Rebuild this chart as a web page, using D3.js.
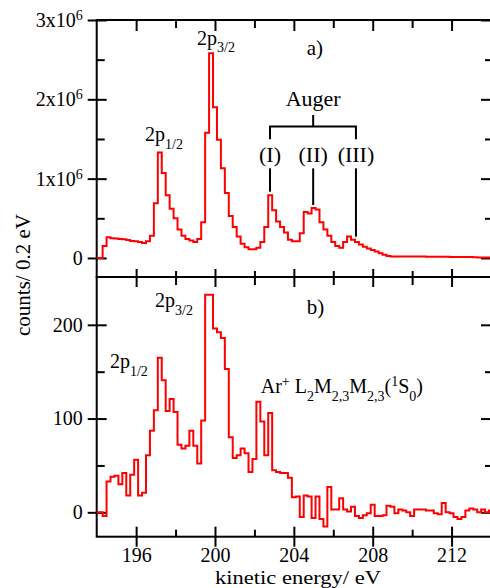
<!DOCTYPE html>
<html>
<head>
<meta charset="utf-8">
<script src="https://cdn.jsdelivr.net/npm/d3@7"></script>
<style>
    body { margin: 0; background: #fff; }
    text { font-family: "Liberation Serif", "Times New Roman", serif; white-space: pre; }
</style>
</head>
<body>
<div id="chart"></div>
<script>
// histogram bins (eV)
const binStart = 194.0;
const binWidth = 0.2;

// a) counts / 0.2 eV in units of 1e6
const topCounts = [
    0, 0, 0.15, 0.26, 0.25, 0.245, 0.24, 0.235, 0.225, 0.215,
    0.21, 0.20, 0.19, 0.21, 0.28, 0.69, 1.33, 1.07, 0.79, 0.62,
    0.50, 0.36, 0.28, 0.24, 0.22, 0.20, 0.24, 0.45, 1.58, 2.58,
    1.90, 1.49, 1.13, 0.82, 0.53, 0.39, 0.27, 0.18, 0.135, 0.11,
    0.11, 0.13, 0.20, 0.39, 0.79, 0.60, 0.46, 0.39, 0.32, 0.23,
    0.21, 0.21, 0.31, 0.58, 0.56, 0.63, 0.61, 0.45, 0.36, 0.28,
    0.20, 0.15, 0.13, 0.20, 0.27, 0.23, 0.20, 0.17, 0.14, 0.12,
    0.10, 0.08, 0.06, 0.04, 0.025, 0.02, 0.02, 0.02, 0.02, 0.018,
    0.018, 0.018, 0.017, 0.017, 0.016, 0.016, 0.015, 0.015, 0.014, 0.014,
    0.013, 0.013, 0.012, 0.012, 0.012, 0.011, 0.008, 0.006, 0.005, 0.005,
    0.005
];

// b) coincidence counts
const botCounts = [
    0, 0, -4, 33, 38, 39, 30, 42, 18, 40,
    56, 18, 21, 61, 87, 109, 165, 141, 108, 121,
    107, 72, 68, 71, 87, 71, 52, 98, 232, 232,
    196, 192, 186, 153, 80, 58, 61, 68, 63, 43,
    57, 118, 97, 61, 106, 45, 43, 42, 42, 37,
    16, 17, -5, 18, 17, -6, 17, -7, -15, 27,
    3, 3, 15, 3, 1, 6, -4, -6, -3, -1,
    8, -4, -4, -3, 7, 6, -1, 3, 2, 0,
    -4, 3, 3, 3, 2, 2, -1, -2, 10, 0,
    -1, -5, -7, -5, 2, 4, 3, 0, 3, 0,
    2
];

// ticks
const xMajor = [196, 200, 204, 208, 212];
const xMinor = [198, 202, 206, 210];
const topMajor = [0, 1, 2, 3];
const topMinor = [0.5, 1.5, 2.5];
const botMajor = [0, 100, 200];
const botMinor = [50, 150];

// Auger markers in panel a)
const augerLabels = ['(I)', '(II)', '(III)'];
const augerEnergy = [202.79, 204.98, 207.15];
const augerPeak = [0.836, 0.668, 0.269];

const svg = d3.select('#chart')
    .append('svg')
    .attr('width', 490)
    .attr('height', 588);

var x = d3.scaleLinear()
    .domain([194, 214])
    .range([96.7, 491]);

var yTop = d3.scaleLinear()
    .domain([-0.24, 3])
    .range([277, 20]);

var yBot = d3.scaleLinear()
    .domain([-26, 251])
    .range([536.7, 277]);

const topData = topCounts.map((v, i) => ({ e: binStart + i * binWidth, v: v }));
const botData = botCounts.map((v, i) => ({ e: binStart + i * binWidth, v: v }));

// frames
[[20, 277], [277, 536.7]].forEach(([y0, y1]) => {
    svg.append('rect')
        .attr('x', x(194))
        .attr('y', y0)
        .attr('width', x(214) - x(194))
        .attr('height', y1 - y0)
        .attr('fill', 'none')
        .attr('stroke', 'black')
        .attr('stroke-width', 2);
});

// tick helper
function ticks(axisName, scale, tx, ty, values, size, fmt, pad) {
    const axis = d3[axisName](scale)
        .tickValues(values)
        .tickSize(size)
        .tickSizeOuter(0)
        .tickPadding(pad === undefined ? 5 : pad)
        .tickFormat(fmt || (() => ''));
    const g = svg.append('g')
        .attr('transform', 'translate(' + tx + ',' + ty + ')')
        .call(axis)
        .attr('font-family', '"Liberation Serif", serif')
        .attr('font-size', 20);
    g.select('.domain').remove();
    g.selectAll('line').attr('stroke', 'black').attr('stroke-width', 2);
    g.selectAll('text').attr('fill', 'black');
    return g;
}

// panel a) y ticks
const gTopLeft = ticks('axisLeft', yTop, x(194), 0, topMajor, 9, d => d);
gTopLeft.selectAll('text').each(function (d) {
    const t = d3.select(this);
    t.text(null);
    if (d === 0) { t.text('0'); return; }
    t.append('tspan').text(d + 'x10');
    t.append('tspan').attr('dy', -7).attr('font-size', 14).text('6');
});
ticks('axisLeft', yTop, x(194), 0, topMajor, -10);
ticks('axisLeft', yTop, x(194), 0, topMinor, -8);
ticks('axisRight', yTop, x(214), 0, topMajor, -10);
ticks('axisRight', yTop, x(214), 0, topMinor, -6);

// panel a) x ticks
ticks('axisTop', x, 0, 20, xMajor, -11);
ticks('axisTop', x, 0, 20, xMinor, -8);
ticks('axisBottom', x, 0, 277, xMajor, -8);
ticks('axisBottom', x, 0, 277, xMinor, -6);

// panel b) ticks
ticks('axisTop', x, 0, 277, xMajor, -10);
ticks('axisTop', x, 0, 277, xMinor, -8);
ticks('axisBottom', x, 0, 536.7, xMajor, 10, d => d, 1);
ticks('axisBottom', x, 0, 536.7, xMajor, -10);
ticks('axisBottom', x, 0, 536.7, xMinor, -7);
ticks('axisLeft', yBot, x(194), 0, botMajor, 9, d => d);
ticks('axisLeft', yBot, x(194), 0, botMajor, -10);
ticks('axisLeft', yBot, x(194), 0, botMinor, -8);
ticks('axisRight', yBot, x(214), 0, botMajor, -10);
ticks('axisRight', yBot, x(214), 0, botMinor, -6);

// spectra
svg.append('path')
    .datum(topData)
    .attr('d', d3.line().x(d => x(d.e)).y(d => yTop(d.v)).curve(d3.curveStep))
    .attr('fill', 'none')
    .attr('stroke', '#ff0000')
    .attr('stroke-width', 2);

svg.append('path')
    .datum(botData)
    .attr('d', d3.line().x(d => x(d.e)).y(d => yBot(d.v)).curve(d3.curveStep))
    .attr('fill', 'none')
    .attr('stroke', '#ff0000')
    .attr('stroke-width', 2);

// text with sub/superscripts
function rich(px, py, parts, size, anchor) {
    const t = svg.append('text')
        .attr('x', px)
        .attr('y', py)
        .attr('font-size', size)
        .attr('text-anchor', anchor || 'start');
    let cur = 0;
    parts.forEach(([s, k]) => {
        const off = k === 'sub' ? size * 0.38 : k === 'sup' ? -size * 0.38 : 0;
        t.append('tspan')
            .attr('dy', off - cur)
            .attr('font-size', k ? size * 0.7 : size)
            .text(s);
        cur = off;
    });
    return t;
}

// panel a) labels
rich(x(196.45), yTop(1.47), [['2p'], ['1/2', 'sub']], 20);
rich(x(199.09), yTop(2.69), [['2p'], ['3/2', 'sub']], 20);
rich(x(204.65), yTop(2.56), [['a)']], 21);
rich(x(204.98), yTop(1.92), [['Auger']], 22, 'middle');

// Auger bracket
svg.append('path')
    .attr('d', 'M' + x(augerEnergy[0]) + ',' + yTop(1.497) +
        'V' + yTop(1.656) + 'H' + x(augerEnergy[2]) + 'V' + yTop(1.497) +
        'M' + x(augerEnergy[1]) + ',' + yTop(1.656) + 'V' + yTop(1.803))
    .attr('fill', 'none')
    .attr('stroke', 'black')
    .attr('stroke-width', 2);

augerLabels.forEach((l, i) => {
    rich(x(augerEnergy[i]), yTop(1.21), [[l]], 22, 'middle');
    svg.append('line')
        .attr('x1', x(augerEnergy[i]))
        .attr('x2', x(augerEnergy[i]))
        .attr('y1', yTop(1.13))
        .attr('y2', yTop(augerPeak[i]))
        .attr('stroke', 'black')
        .attr('stroke-width', 2);
});

// panel b) labels
rich(x(196.96), yBot(219), [['2p'], ['3/2', 'sub']], 20);
rich(x(194.67), yBot(154), [['2p'], ['1/2', 'sub']], 20);
rich(x(204.65), yBot(212), [['b)']], 21);
rich(x(202.32), yBot(127), [['Ar'], ['+', 'sup'], [' L'], ['2', 'sub'], ['M'], ['2,3', 'sub'],
    ['M'], ['2,3', 'sub'], ['('], ['1', 'sup'], ['S'], ['0', 'sub'], [')']], 20);

// axis titles
svg.append('text')
    .attr('transform', 'translate(30,275) rotate(-90)')
    .attr('text-anchor', 'middle')
    .attr('font-size', 21)
    .text('counts/ 0.2 eV');

svg.append('text')
    .attr('x', 298)
    .attr('y', 583.5)
    .attr('text-anchor', 'middle')
    .attr('font-size', 19)
    .attr('textLength', 166)
    .attr('lengthAdjust', 'spacingAndGlyphs')
    .text('kinetic energy/ eV');
</script>
</body>
</html>
